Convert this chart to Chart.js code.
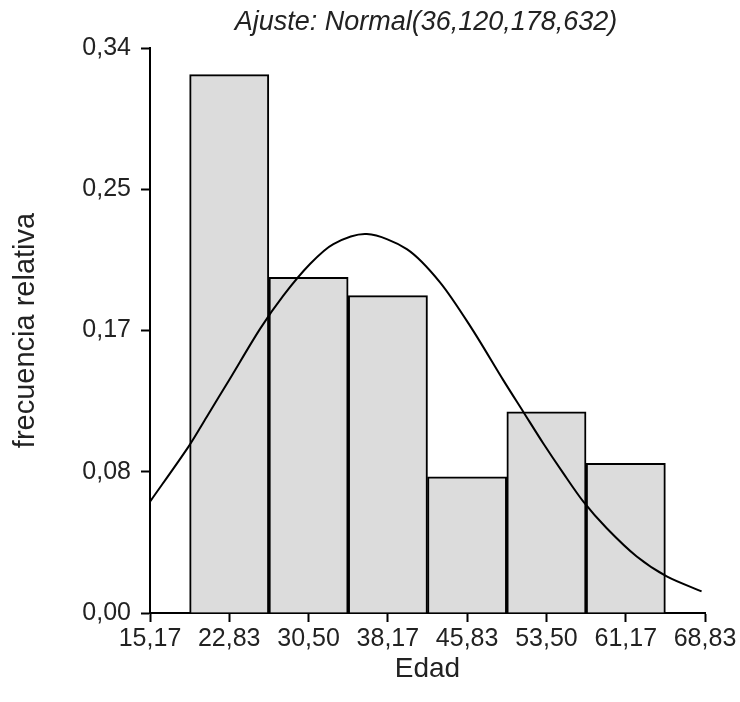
<!DOCTYPE html>
<html>
<head>
<meta charset="utf-8">
<script src="https://cdn.jsdelivr.net/npm/chart.js@4.4.0/dist/chart.umd.min.js"></script>
<style>
  body { margin: 0; background: #fff; }
</style>
</head>
<body>
<canvas id="myChart" width="740" height="702"></canvas>
<script>
// histogram bins (centre of each class) and relative frequency
const binCenters = [22.83, 30.50, 38.17, 45.83, 53.50, 61.17];
const freqs = [0.324, 0.202, 0.191, 0.082, 0.121, 0.090];

// fitted curve
const curveX = [15.17, 18.88, 20.65, 22.90, 25.81, 28.06, 30.64, 32.90, 36.13, 40.00, 43.21, 46.30, 49.34, 51.27, 53.20, 55.14, 57.07, 59.33, 62.23, 65.13, 68.50];
const curveY = [0.067, 0.100, 0.118, 0.141, 0.171, 0.191, 0.210, 0.222, 0.228, 0.219, 0.199, 0.171, 0.140, 0.121, 0.102, 0.084, 0.067, 0.051, 0.034, 0.022, 0.013];

const xTicks = [15.17, 22.83, 30.50, 38.17, 45.83, 53.50, 61.17, 68.83];
const xTickLabels = ["15,17", "22,83", "30,50", "38,17", "45,83", "53,50", "61,17", "68,83"];
const yTicks = [0, 0.085, 0.17, 0.255, 0.34];
const yTickLabels = ["0,00", "0,08", "0,17", "0,25", "0,34"];

const FONT = "'Liberation Sans', Arial, sans-serif";

const titlePlugin = {
  id: 'topTitle',
  afterDraw(chart) {
    const ctx = chart.ctx;
    ctx.save();
    ctx.font = "italic 27px " + FONT;
    ctx.fillStyle = "#222";
    ctx.textAlign = "center";
    ctx.textBaseline = "middle";
    ctx.fillText("Ajuste: Normal(36,120,178,632)", 426, 22);
    ctx.restore();
  }
};

new Chart("myChart", {
  data: {
    datasets: [
      {
        type: "line",
        order: 0,
        data: curveX.map((x, i) => ({x: x, y: curveY[i]})),
        borderColor: "#000",
        borderWidth: 2,
        pointRadius: 0,
        tension: 0.3,
        fill: false
      },
      {
        type: "bar",
        order: 1,
        data: binCenters.map((x, i) => ({x: x, y: freqs[i]})),
        backgroundColor: "#dcdcdc",
        borderColor: "#000",
        borderWidth: 2,
        barPercentage: 1,
        categoryPercentage: 1
      }
    ]
  },
  options: {
    responsive: false,
    animation: false,
    layout: { padding: { top: 48, right: 35, left: 0, bottom: 0 } },
    plugins: { legend: { display: false }, tooltip: { enabled: false } },
    scales: {
      x: {
        type: "linear",
        offset: false,
        min: 15.17,
        max: 68.83,
        afterBuildTicks: (scale) => { scale.ticks = xTicks.map(v => ({value: v})); },
        afterFit: (scale) => { scale.height = 89; },
        grid: { drawOnChartArea: false, offset: false, tickLength: 9, tickColor: "#000", tickWidth: 2 },
        border: { color: "#000", width: 2 },
        ticks: {
          color: "#222",
          font: { family: FONT, size: 25 },
          padding: 2,
          maxRotation: 0,
          autoSkip: false,
          callback: (v, i) => xTickLabels[i]
        },
        title: {
          display: true,
          text: "Edad",
          color: "#222",
          font: { family: FONT, size: 28 },
          padding: { top: 0, bottom: 16 }
        }
      },
      y: {
        min: 0,
        max: 0.34,
        afterBuildTicks: (scale) => { scale.ticks = yTicks.map(v => ({value: v})); },
        afterFit: (scale) => { scale.width = 150; },
        grid: { drawOnChartArea: false, tickLength: 9, tickColor: "#000", tickWidth: 2 },
        border: { color: "#000", width: 2 },
        ticks: {
          color: "#222",
          font: { family: FONT, size: 25 },
          padding: 10,
          autoSkip: false,
          callback: (v, i) => yTickLabels[i]
        },
        title: {
          display: true,
          text: "frecuencia relativa",
          color: "#222",
          font: { family: FONT, size: 29 },
          padding: { top: 9, bottom: 0 }
        }
      }
    }
  },
  plugins: [titlePlugin]
});
</script>
</body>
</html>
